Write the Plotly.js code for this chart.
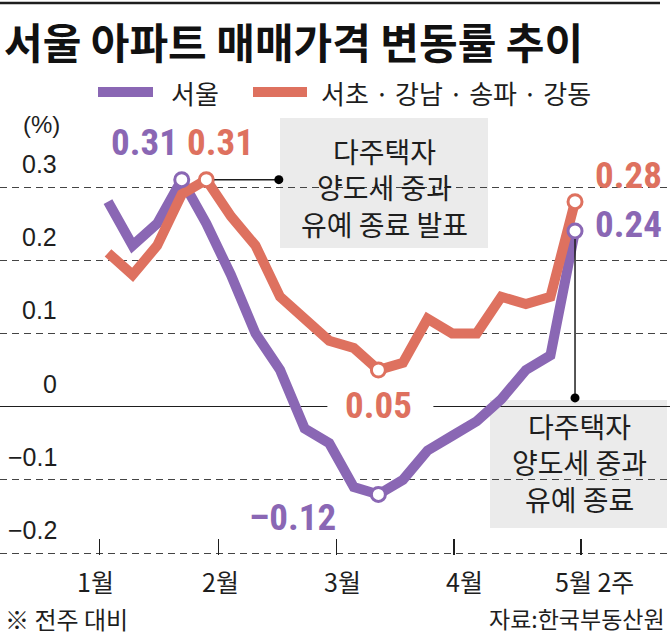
<!DOCTYPE html>
<html><head><meta charset="utf-8">
<script src="https://cdn.plot.ly/plotly-3.0.1.min.js"></script>
<style>html,body{margin:0;padding:0;background:#fff;} #chart{width:670px;height:643px;}</style>
</head><body><div id="chart"></div>
<script>
// ---- data ----
const weeks = [0,1,2,3,4,5,6,7,8,9,10,11,12,13,14,15,16,17,18,19];
const seoul = [0.28,0.22,0.25,0.31,0.25,0.18,0.10,0.05,-0.03,-0.05,-0.11,-0.12,-0.10,-0.06,-0.04,-0.02,0.01,0.05,0.07,0.24];
const gangnam4 = [0.21,0.18,0.22,0.29,0.31,0.26,0.22,0.15,0.12,0.09,0.08,0.05,0.06,0.12,0.10,0.10,0.15,0.14,0.15,0.28];
const seriesNames = ['서울','서초 · 강남 · 송파 · 강동'];
const monthTickVals = [-0.33,4.48,9.28,14.08,19.24];
const monthLabels = ['1월','2월','3월','4월','5월 2주'];
const yTickVals = [-0.2,-0.1,0,0.1,0.2,0.3];
const yTickText = ['\u22120.2','\u22120.1','0','0.1','0.2','0.3'];
const seoulMarks = [3,11,19];
const gangnamMarks = [4,11,19];

// ---- style ----
const PURPLE = '#8a67b4', ORANGE = '#de715f', INK = '#1e1e1e', BOX = '#ebebeb';
const W = 670, H = 643, MT = 110, MB = 88;
const PX_PER_UNIT = 732;
const PH = H - MT - MB;
const YBOT = -0.2 - 2 / PX_PER_UNIT;
const px = x => x / W;
const py = y => (H - MB - y) / PH;
const KR = 'Noto Sans CJK KR, Noto Sans, sans-serif';
const NUM = 'Liberation Sans Narrow, Roboto Condensed, Liberation Sans, Arial, sans-serif';
const fmt = v => (v < 0 ? '\u2013' : '') + Math.abs(v).toFixed(2);

const traces = [
  {x: weeks, y: seoul, mode: 'lines', line: {color: PURPLE, width: 10}, hoverinfo: 'skip', name: seriesNames[0]},
  {x: weeks, y: gangnam4, mode: 'lines', line: {color: ORANGE, width: 10}, hoverinfo: 'skip', name: seriesNames[1]},
  {x: seoulMarks.map(i => weeks[i]), y: seoulMarks.map(i => seoul[i]), mode: 'markers',
   marker: {size: 14, color: '#fff', line: {color: PURPLE, width: 3}}, hoverinfo: 'skip', cliponaxis: false},
  {x: gangnamMarks.map(i => weeks[i]), y: gangnamMarks.map(i => gangnam4[i]), mode: 'markers',
   marker: {size: 14, color: '#fff', line: {color: ORANGE, width: 3}}, hoverinfo: 'skip', cliponaxis: false}
];

const ann = [];
const shapes = [];
// title
ann.push({xref:'paper', yref:'paper', x:px(2), y:py(40), xanchor:'left', yanchor:'middle', showarrow:false,
  text:'서울 아파트 매매가격 변동률 추이', font:{family:KR, size:42, color:'#111', weight:700}});
shapes.push({type:'line', xref:'paper', yref:'paper', x0:0, x1:px(660), y0:py(3), y1:py(3), line:{color:INK, width:2.5}});
// legend
[[PURPLE, 98, 153, 169, seriesNames[0]], [ORANGE, 253, 307, 319, seriesNames[1]]].forEach(([c, a, b, t, name]) => {
  shapes.push({type:'line', xref:'paper', yref:'paper', x0:px(a), x1:px(b), y0:py(92), y1:py(92), line:{color:c, width:10}});
  ann.push({xref:'paper', yref:'paper', x:px(t), y:py(92), xanchor:'left', yanchor:'middle', showarrow:false,
    text:name, font:{family:KR, size:26, color:INK}});
});
// unit
ann.push({xref:'paper', yref:'paper', x:px(41), y:py(125), xanchor:'center', yanchor:'middle', showarrow:false,
  text:'(%)', font:{family:'Liberation Sans, Arial, sans-serif', size:24, color:INK}});
// y tick labels
yTickVals.forEach((v, k) => ann.push({xref:'paper', yref:'y', x:px(59), y:v, yshift:23, xanchor:'right', yanchor:'middle',
  showarrow:false, text:yTickText[k], font:{family:'Liberation Sans, Arial, sans-serif', size:25, color:INK}}));
// x labels
const xLabelShift = [-4, 2, 6, 10, 14];
monthTickVals.forEach((v, k) => ann.push({xref:'x', yref:'paper', x:v, xshift:xLabelShift[k], y:py(581), xanchor:'center', yanchor:'middle',
  showarrow:false, text:monthLabels[k], font:{family:KR, size:25, color:INK}}));
// footer
ann.push({xref:'paper', yref:'paper', x:px(3), y:py(618), xanchor:'left', yanchor:'middle', showarrow:false,
  text:'※ 전주 대비', font:{family:KR, size:24, color:INK}});
ann.push({xref:'paper', yref:'paper', x:px(667), y:py(618), xanchor:'right', yanchor:'middle', showarrow:false,
  text:'자료:한국부동산원', font:{family:KR, size:23, color:INK}});
// value labels
const valLabels = [
  [weeks[3], seoul[3], -37, 37, 'center', PURPLE],
  [weeks[4], gangnam4[4], 14, 37, 'center', ORANGE],
  [weeks[11], gangnam4[11], 0, -35, 'center', ORANGE],
  [weeks[11], seoul[11], -86, -23, 'center', PURPLE],
  [weeks[19], gangnam4[19], 18, 26, 'left', ORANGE],
  [weeks[19], seoul[19], 18, 6, 'left', PURPLE]
];
valLabels.forEach(([x, y, dx, dy, xa, c]) => ann.push({xref:'x', yref:'y', x:x, y:y, xshift:dx, yshift:dy, xanchor:xa, yanchor:'middle',
  showarrow:false, text:fmt(y), font:{family:NUM, size:37, color:c, weight:700}}));
// white gap in zero line behind 0.05
shapes.push({type:'rect', layer:'between', xref:'x', yref:'y', xsizemode:'pixel', ysizemode:'pixel',
  xanchor:weeks[11], yanchor:0, x0:-51, x1:55, y0:-11, y1:11, fillcolor:'#fff', line:{width:0}});
// callout boxes
shapes.push({type:'rect', layer:'between', xref:'paper', yref:'paper', x0:px(280), x1:px(488), y0:py(248), y1:py(118), fillcolor:BOX, line:{width:0}});
shapes.push({type:'rect', layer:'between', xref:'paper', yref:'paper', x0:px(490), x1:px(667), y0:py(528), y1:py(400), fillcolor:BOX, line:{width:0}});
ann.push({xref:'paper', yref:'paper', x:px(384), y:py(187), xanchor:'center', yanchor:'middle', showarrow:false,
  text:'다주택자<br>양도세 중과<br>유예 종료 발표', font:{family:KR, size:28, color:INK}});
ann.push({xref:'paper', yref:'paper', x:px(579), y:py(462), xanchor:'center', yanchor:'middle', showarrow:false,
  text:'다주택자<br>양도세 중과<br>유예 종료', font:{family:KR, size:28, color:INK}});
// connectors
shapes.push({type:'line', xref:'x', yref:'y', xsizemode:'pixel', xanchor:weeks[4], x0:8, x1:73, y0:gangnam4[4], y1:gangnam4[4], line:{color:INK, width:1.5}});
shapes.push({type:'circle', xref:'x', yref:'y', xsizemode:'pixel', ysizemode:'pixel', xanchor:weeks[4], yanchor:gangnam4[4], x0:68, x1:77, y0:-4.5, y1:4.5, fillcolor:'#000', line:{width:0}});
shapes.push({type:'line', xref:'x', yref:'y', ysizemode:'pixel', yanchor:seoul[19], x0:weeks[19], x1:weeks[19], y0:-8, y1:-167, line:{color:INK, width:1.5}});
shapes.push({type:'circle', xref:'x', yref:'y', xsizemode:'pixel', ysizemode:'pixel', xanchor:weeks[19], yanchor:seoul[19], x0:-4.5, x1:4.5, y0:-171.5, y1:-162.5, fillcolor:'#000', line:{width:0}});

const layout = {
  width: W, height: H, margin: {l:0, r:0, t:MT, b:MB}, paper_bgcolor:'#fff', plot_bgcolor:'#fff', showlegend:false,
  xaxis: {range:[-4.394, 22.864], showgrid:false, zeroline:false, showline:false, tickvals:monthTickVals, ticks:'inside',
    ticklen:16, tickwidth:1.2, tickcolor:INK, showticklabels:false, fixedrange:true},
  yaxis: {range:[YBOT, YBOT + PH / PX_PER_UNIT], tickvals:[-0.2,-0.1,0.1,0.2,0.3], showticklabels:false, ticks:'',
    showgrid:true, gridcolor:'#444', gridwidth:1, griddash:'7px,5px', zeroline:true, zerolinecolor:INK, zerolinewidth:1.5, fixedrange:true},
  annotations: ann, shapes: shapes
};
Plotly.newPlot('chart', traces, layout, {displayModeBar:false, staticPlot:true});
</script></body></html>
